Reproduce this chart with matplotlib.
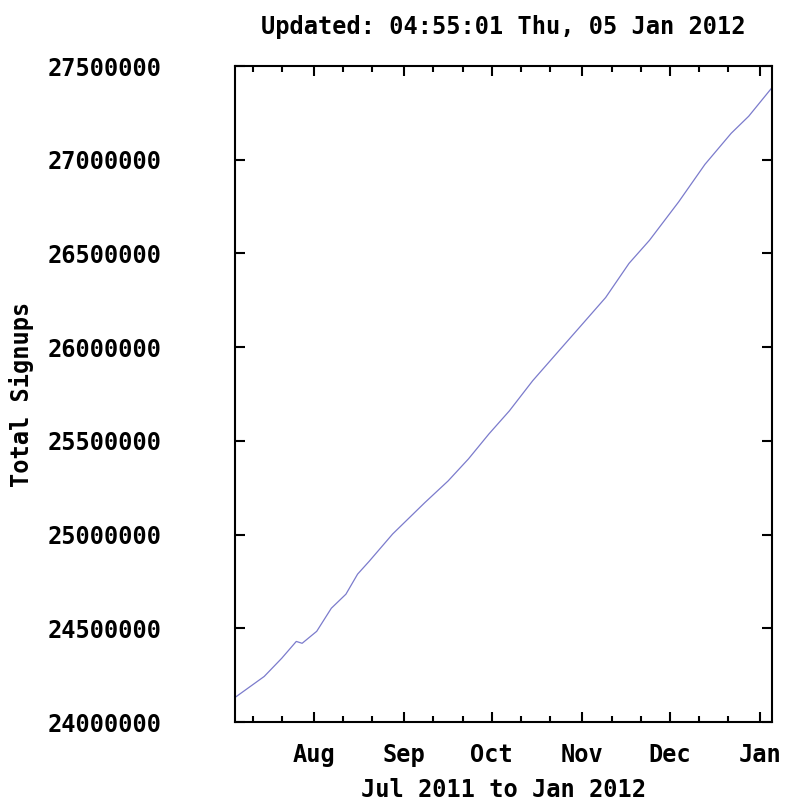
import numpy as np
import matplotlib
matplotlib.use("Agg")
import matplotlib.pyplot as plt
import matplotlib.dates as mdates
from matplotlib.ticker import FixedLocator, NullFormatter

# values
dates = ["2011-07-05", "2011-07-15", "2011-07-21", "2011-07-26", "2011-07-28",
         "2011-08-02", "2011-08-07", "2011-08-12", "2011-08-16", "2011-08-20",
         "2011-08-28", "2011-09-08", "2011-09-16", "2011-09-23", "2011-09-30",
         "2011-10-07", "2011-10-15", "2011-10-24", "2011-10-31", "2011-11-09",
         "2011-11-17", "2011-11-24", "2011-12-04", "2011-12-13",
         "2011-12-22", "2011-12-28", "2012-01-05"]
signups = [24131000, 24243000, 24340000, 24430000, 24420000,
           24484000, 24607000, 24682000, 24789000, 24858000,
           25003000, 25170000, 25286000, 25404000, 25537000,
           25660000, 25821000, 25981000, 26105000, 26265000,
           26447000, 26570000, 26775000, 26975000,
           27141000, 27232000, 27385000]
month_ticks = ["2011-08-01", "2011-09-01", "2011-10-01", "2011-11-01",
               "2011-12-01", "2012-01-01"]
month_labels = ["Aug", "Sep", "Oct", "Nov", "Dec", "Jan"]
y_ticks = [24000000, 24500000, 25000000, 25500000, 26000000,
           26500000, 27000000, 27500000]

font = {"family": "DejaVu Sans Mono", "weight": "bold", "size": 17}
plt.rcParams["font.family"] = "DejaVu Sans Mono"
plt.rcParams["font.weight"] = "bold"

x = np.array(dates, dtype="datetime64[D]")
fig = plt.figure(figsize=(7.87, 8.01), dpi=100)
ax = fig.add_axes([0.2986, 0.0986, 0.6824, 0.819])

ax.plot(x, signups, color="#7b7bcc", lw=0.9)

ax.set_xlim(np.datetime64("2011-07-05"), np.datetime64("2012-01-05"))
ax.set_ylim(24000000, 27500000)

mt = mdates.date2num(np.array(month_ticks, dtype="datetime64[D]"))
ax.xaxis.set_major_locator(FixedLocator(mt))
ax.set_xticklabels(month_labels, fontdict=font)
ax.xaxis.set_minor_locator(mdates.DayLocator(bymonthday=[11, 21]))
ax.xaxis.set_minor_formatter(NullFormatter())

ax.set_yticks(y_ticks)
ax.set_yticklabels([str(v) for v in y_ticks], fontdict=font)

ax.tick_params(which="both", direction="in", top=True, right=True, width=1.5)
ax.tick_params(which="major", length=7)
ax.tick_params(which="minor", length=4.5)
ax.tick_params(axis="x", which="major", pad=15)
ax.tick_params(axis="y", which="major", pad=53)

for s in ax.spines.values():
    s.set_linewidth(1.5)

ax.set_ylabel("Total Signups", fontdict=font)
ax.yaxis.label.set_va("center")
ax.yaxis.set_label_coords(-0.397, 0.5)
ax.set_xlabel("Jul 2011 to Jan 2012", fontdict=font)
ax.xaxis.label.set_va("center")
ax.xaxis.set_label_coords(0.5, -0.104)
fig.text(0.5 * (0.2986 + 0.981), 0.966, "Updated: 04:55:01 Thu, 05 Jan 2012",
         ha="center", va="center", fontdict=font)

fig.savefig("out.png", dpi=100)
